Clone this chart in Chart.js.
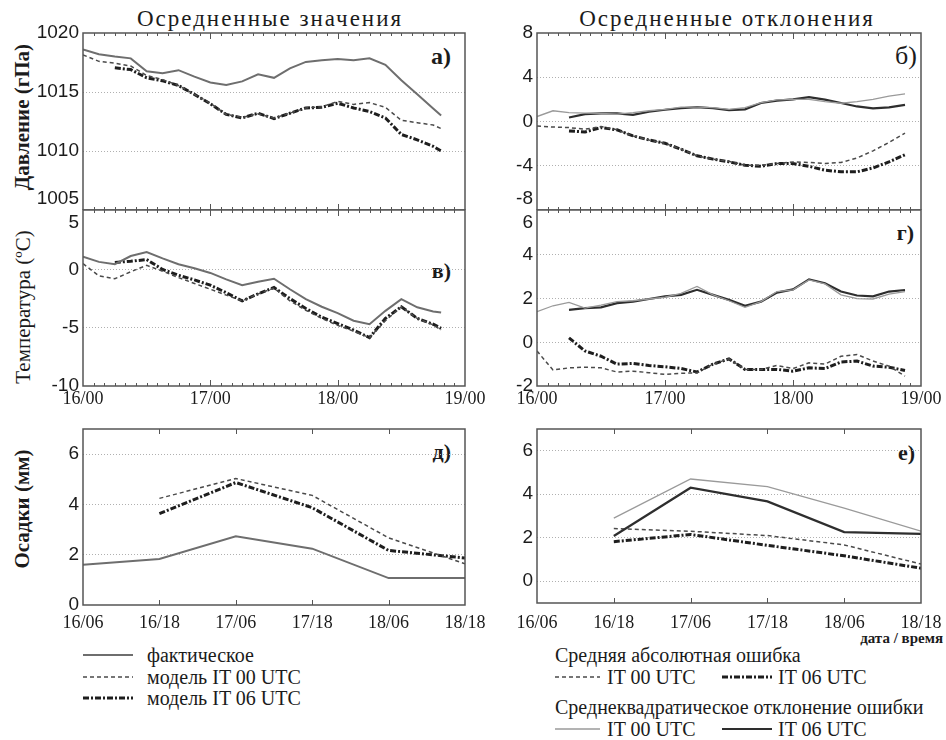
<!DOCTYPE html>
<html>
<head>
<meta charset="utf-8">
<script src="https://cdn.jsdelivr.net/npm/chart.js@4.4.1/dist/chart.umd.min.js"></script>
<style>
  body { margin: 0; width: 946px; height: 740px; background: #fff; position: relative; overflow: hidden; }
  canvas, svg { position: absolute; }
</style>
</head>
<body>
<svg width="946" height="740" style="left:0;top:0">
  <g font-family="Liberation Serif" fill="#1b1b1b" dominant-baseline="central">
    <text x="270" y="18" font-size="23" letter-spacing="2" text-anchor="middle">Осредненные значения</text>
    <text x="727" y="18" font-size="23" letter-spacing="2" text-anchor="middle">Осредненные отклонения</text>
    <text transform="translate(22,117) rotate(-90)" font-size="21" font-weight="bold" text-anchor="middle">Давление (гПа)</text>
    <text transform="translate(23,307) rotate(-90)" font-size="21" text-anchor="middle">Температура (ºC)</text>
    <text transform="translate(22,509) rotate(-90)" font-size="21" font-weight="bold" text-anchor="middle">Осадки (мм)</text>
    <text x="451" y="56" font-size="24" font-weight="bold" text-anchor="end">а)</text>
    <text x="917" y="55" font-size="26" text-anchor="end">б)</text>
    <text x="451" y="270" font-size="22" font-weight="bold" text-anchor="end">в)</text>
    <text x="914" y="232" font-size="22" font-weight="bold" text-anchor="end">г)</text>
    <text x="451" y="451" font-size="22" font-weight="bold" text-anchor="end">д)</text>
    <text x="915" y="452" font-size="22" font-weight="bold" text-anchor="end">е)</text>
    <text x="943" y="638" font-size="15" font-weight="bold" text-anchor="end">дата / время</text>

    <text x="147" y="655" font-size="20">фактическое</text>
    <text x="147" y="677" font-size="20">модель IT 00 UTC</text>
    <text x="147" y="698" font-size="20">модель IT 06 UTC</text>

    <text x="555" y="655" font-size="20">Средняя абсолютная ошибка</text>
    <text x="607" y="677" font-size="20">IT 00 UTC</text>
    <text x="778" y="677" font-size="20">IT 06 UTC</text>
    <text x="555" y="707" font-size="20">Среднеквадратическое отклонение ошибки</text>
    <text x="607" y="729" font-size="20">IT 00 UTC</text>
    <text x="778" y="729" font-size="20">IT 06 UTC</text>
  </g>
  <g fill="none">
    <line x1="83" y1="655" x2="133" y2="655" stroke="#6e6e6e" stroke-width="2"/>
    <line x1="83" y1="677" x2="133" y2="677" stroke="#4a4a4a" stroke-width="1.5" stroke-dasharray="4 3"/>
    <line x1="83" y1="698" x2="133" y2="698" stroke="#1e1e1e" stroke-width="3" stroke-dasharray="6 2 2 2"/>
    <line x1="555" y1="677" x2="600" y2="677" stroke="#4a4a4a" stroke-width="1.5" stroke-dasharray="4 3"/>
    <line x1="722" y1="677" x2="772" y2="677" stroke="#1e1e1e" stroke-width="3" stroke-dasharray="6 2 2 2"/>
    <line x1="555" y1="729" x2="600" y2="729" stroke="#9a9a9a" stroke-width="1.3"/>
    <line x1="722" y1="729" x2="772" y2="729" stroke="#2e2e2e" stroke-width="2.2"/>
  </g>
</svg>

<canvas id="pA" width="490" height="190" style="left:0;top:20px"></canvas>
<canvas id="pB" width="466" height="190" style="left:480px;top:20px"></canvas>
<canvas id="pV" width="490" height="217" style="left:0;top:195px"></canvas>
<canvas id="pG" width="466" height="217" style="left:480px;top:195px"></canvas>
<canvas id="pD" width="490" height="218" style="left:0;top:415px"></canvas>
<canvas id="pE" width="466" height="216" style="left:480px;top:415px"></canvas>

<script>
// time axes, hours from 16/00
const leftHours = [0, 3, 6, 9, 12, 15, 18, 21, 24, 27, 30, 33, 36, 39, 42, 45, 48, 51, 54, 57, 60, 63, 66, 67.5];
const rightHours = [0, 3, 6, 9, 12, 15, 18, 21, 24, 27, 30, 33, 36, 39, 42, 45, 48, 51, 54, 57, 60, 63, 66, 69];
const dayTicks = [0, 24, 48, 72];
const dayLabels = ['16/00', '17/00', '18/00', '19/00'];
const termPos = [0, 1, 2, 3, 4, 5];
const termLabels = ['16/06', '16/18', '17/06', '17/18', '18/06', '18/18'];

// а) давление
const pressFact = [1018.6, 1018.2, 1018.0, 1017.85, 1016.75, 1016.6, 1016.85, 1016.3, 1015.8, 1015.6, 1015.9, 1016.5,
  1016.2, 1017.0, 1017.55, 1017.7, 1017.8, 1017.7, 1017.85, 1017.3, 1016.0, 1014.8, 1013.6, 1013.0];
const pressIT00 = [1018.15, 1017.6, 1017.45, 1017.2, 1016.4, 1016.05, 1015.55, 1014.8, 1014.05, 1013.1, 1012.85, 1013.15,
  1012.8, 1013.2, 1013.65, 1013.75, 1014.2, 1013.95, 1014.1, 1013.7, 1012.6, 1012.4, 1012.2, 1011.9];
const pressIT06 = [null, null, 1017.05, 1016.9, 1016.2, 1015.95, 1015.55, 1014.8, 1014.0, 1013.1, 1012.8, 1013.2,
  1012.75, 1013.2, 1013.65, 1013.7, 1014.05, 1013.65, 1013.35, 1012.8, 1011.4, 1010.95, 1010.4, 1010.0];

// в) температура
const tempFact = [1.1, 0.65, 0.45, 1.15, 1.5, 0.95, 0.45, 0.1, -0.3, -0.85, -1.35, -1.05,
  -0.8, -1.7, -2.55, -3.2, -3.75, -4.4, -4.7, -3.55, -2.55, -3.25, -3.6, -3.7];
const tempIT00 = [0.5, -0.55, -0.8, -0.2, 0.35, -0.15, -0.7, -1.2, -1.7, -2.2, -2.7, -2.1,
  -1.6, -2.7, -3.5, -4.2, -4.8, -5.3, -5.85, -4.4, -3.2, -4.2, -4.75, -5.2];
const tempIT06 = [null, null, 0.6, 0.7, 0.85, 0.0, -0.5, -0.9, -1.35, -2.0, -2.7, -2.1,
  -1.55, -2.5, -3.35, -4.1, -4.65, -5.2, -5.85, -4.2, -3.2, -4.2, -4.7, -5.05];

// б) отклонения давления
const pressRmse00 = [0.45, 0.97, 0.8, 0.75, 0.73, 0.67, 0.8, 0.97, 1.1, 1.3, 1.3, 1.25,
  1.1, 1.25, 1.7, 1.95, 2.0, 2.0, 1.8, 1.65, 1.8, 2.0, 2.3, 2.5];
const pressRmse06 = [null, null, 0.36, 0.67, 0.73, 0.73, 0.6, 0.88, 1.06, 1.2, 1.3, 1.2,
  1.03, 1.1, 1.67, 1.88, 2.0, 2.2, 1.97, 1.67, 1.36, 1.18, 1.27, 1.5];
const pressMae00 = [-0.4, -0.5, -0.55, -0.7, -0.45, -0.75, -1.3, -1.67, -1.97, -2.5, -3.1, -3.4,
  -3.6, -3.95, -3.95, -3.8, -3.65, -3.7, -3.8, -3.7, -3.3, -2.65, -1.9, -1.05];
const pressMae06 = [null, null, -0.85, -0.95, -0.55, -0.75, -1.3, -1.67, -1.97, -2.5, -3.1, -3.4,
  -3.65, -3.95, -4.05, -3.8, -3.8, -4.05, -4.4, -4.55, -4.55, -4.2, -3.65, -3.0];

// г) отклонения температуры
const tempRmse00 = [1.4, 1.67, 1.82, 1.56, 1.7, 1.86, 1.9, 1.98, 2.06, 2.24, 2.55, 2.17,
  1.9, 1.6, 1.86, 2.32, 2.4, 2.85, 2.67, 2.17, 2.0, 1.98, 2.2, 2.32];
const tempRmse06 = [null, null, 1.48, 1.56, 1.6, 1.79, 1.86, 1.98, 2.1, 2.17, 2.4, 2.17,
  1.94, 1.67, 1.86, 2.27, 2.42, 2.88, 2.7, 2.32, 2.14, 2.1, 2.32, 2.39];
const tempMae00 = [-0.4, -1.27, -1.17, -1.14, -1.17, -1.36, -1.32, -1.39, -1.47, -1.42, -1.4, -1.0,
  -0.76, -1.24, -1.24, -1.06, -1.2, -0.94, -1.0, -0.64, -0.56, -0.86, -1.09, -1.55];
const tempMae06 = [null, null, 0.2, -0.4, -0.64, -1.0, -0.97, -1.06, -1.12, -1.2, -1.36, -1.0,
  -0.76, -1.24, -1.24, -1.24, -1.32, -1.17, -1.2, -0.9, -0.86, -1.09, -1.14, -1.29];

// д) е) осадки
const precipFact = [1.6, 1.83, 2.73, 2.24, 1.07, 1.07];
const precipIT00 = [null, 4.24, 5.03, 4.36, 2.67, 1.64];
const precipIT06 = [null, 3.63, 4.87, 3.87, 2.17, 1.87];
const precipRmse00 = [null, 2.9, 4.7, 4.35, 3.36, 2.3];
const precipRmse06 = [null, 2.08, 4.3, 3.67, 2.26, 2.18];
const precipMae00 = [null, 2.42, 2.3, 2.1, 1.67, 0.79];
const precipMae06 = [null, 1.82, 2.15, 1.65, 1.17, 0.6];

// y ticks
const pressTicks = [1005, 1010, 1015, 1020];
const devPressTicks = [-8, -4, 0, 4, 8];
const tempTicks = [-10, -5, 0, 5];
const devTempTicks = [-2, 0, 2, 4, 6];
const precipTicks = [0, 2, 4, 6];
const devPrecipTicks = [0, 2, 4, 6];

const sFact = { borderColor: '#6e6e6e', borderWidth: 2 };
const s00 = { borderColor: '#4a4a4a', borderWidth: 1.5, borderDash: [4, 3] };
const s06 = { borderColor: '#1e1e1e', borderWidth: 3, borderDash: [6, 2, 2, 2] };
const sRmse00 = { borderColor: '#9a9a9a', borderWidth: 1.3 };
const sRmse06 = { borderColor: '#2e2e2e', borderWidth: 2.2 };

function line(label, xs, ys, style) {
  return Object.assign({
    label,
    data: xs.map((x, i) => ({ x, y: ys[i] })),
    pointRadius: 0, tension: 0, fill: false
  }, style);
}

// frame round the plot plus small inward ticks on top and bottom edges
const frameTicks = {
  id: 'frameTicks',
  afterDatasetsDraw(chart, args, opts) {
    const { ctx, chartArea: a, scales: { x } } = chart;
    ctx.save();
    ctx.strokeStyle = '#555';
    ctx.lineWidth = 1;
    ctx.beginPath();
    const tick = (v, len) => {
      const px = Math.round(x.getPixelForValue(v)) + 0.5;
      ctx.moveTo(px, a.top); ctx.lineTo(px, a.top + len);
      ctx.moveTo(px, a.bottom); ctx.lineTo(px, a.bottom - len);
    };
    if (opts.step) {
      for (let v = x.min + opts.step; v < x.max; v += opts.step) {
        tick(v, v % 24 === 0 ? 6 : 3);
      }
    } else {
      termPos.slice(1, -1).forEach(v => tick(v, 5));
    }
    ctx.stroke();
    ctx.lineWidth = 1.5;
    ctx.strokeRect(a.left, a.top, a.width, a.height);
    ctx.restore();
  }
};

function panel(id, cfg) {
  const labelFor = v => {
    const i = cfg.xTicks.indexOf(v);
    return i >= 0 && cfg.xLabels ? cfg.xLabels[i] : '';
  };
  // edge labels are nudged inside the frame, as in the original
  const yLabel = v => {
    if (v === cfg.dropTick) return ['', String(v)];
    if (v === cfg.liftTick) return [String(v), ''];
    return String(v);
  };
  return new Chart(document.getElementById(id), {
    type: 'line',
    data: { datasets: cfg.datasets },
    plugins: [frameTicks],
    options: {
      responsive: false,
      animation: false,
      layout: { padding: { left: 0, right: 25, top: cfg.padTop, bottom: 0 } },
      plugins: {
        legend: { display: false },
        tooltip: { enabled: false },
        frameTicks: { step: cfg.step }
      },
      scales: {
        x: {
          type: 'linear',
          min: cfg.xMin, max: cfg.xMax,
          display: !!cfg.xLabels,
          grid: { display: false, drawTicks: false },
          border: { display: false },
          afterBuildTicks: s => { s.ticks = cfg.xTicks.map(v => ({ value: v })); },
          afterFit: s => { s.height = cfg.xHeight || 0; s.paddingLeft = 0; s.paddingRight = 0; },
          ticks: {
            autoSkip: false, maxRotation: 0, padding: cfg.xPad || 0,
            color: '#1b1b1b',
            font: { family: 'Liberation Serif', size: 18 },
            callback: v => labelFor(v)
          }
        },
        y: {
          min: cfg.yMin, max: cfg.yMax,
          afterBuildTicks: s => { s.ticks = cfg.yTicks.map(v => ({ value: v })); },
          afterFit: s => { s.width = cfg.yWidth; s.paddingTop = 0; s.paddingBottom = 0; },
          grid: {
            drawTicks: false, lineWidth: 1,
            color: c => (c.tick && c.tick.value > cfg.yMin + 0.01 && c.tick.value < cfg.yMax - 0.3) ? '#b0b0b0' : 'rgba(0,0,0,0)'
          },
          border: { display: false, dash: [1, 2] },
          ticks: {
            autoSkip: false, padding: 4, color: '#1b1b1b',
            font: { family: 'Liberation Sans', size: 19 },
            callback: yLabel
          }
        }
      }
    }
  });
}

panel('pA', {
  padTop: 13, yWidth: 83, yMin: 1005, yMax: 1020, yTicks: pressTicks, liftTick: 1005,
  xMin: 0, xMax: 72, xTicks: dayTicks, step: 2,
  datasets: [
    line('фактическое', leftHours, pressFact, sFact),
    line('модель IT 00 UTC', leftHours, pressIT00, s00),
    line('модель IT 06 UTC', leftHours, pressIT06, s06)
  ]
});

panel('pB', {
  padTop: 13, yWidth: 57, yMin: -8, yMax: 8, yTicks: devPressTicks, liftTick: -8,
  xMin: 0, xMax: 72, xTicks: dayTicks, step: 2,
  datasets: [
    line('СКО IT 00 UTC', rightHours, pressRmse00, sRmse00),
    line('СКО IT 06 UTC', rightHours, pressRmse06, sRmse06),
    line('САО IT 00 UTC', rightHours, pressMae00, s00),
    line('САО IT 06 UTC', rightHours, pressMae06, s06)
  ]
});

panel('pV', {
  padTop: 15, yWidth: 83, yMin: -10, yMax: 5.1, yTicks: tempTicks, dropTick: 5,
  xMin: 0, xMax: 72, xTicks: dayTicks, xLabels: dayLabels, xHeight: 26, xPad: 2, step: 2,
  datasets: [
    line('фактическое', leftHours, tempFact, sFact),
    line('модель IT 00 UTC', leftHours, tempIT00, s00),
    line('модель IT 06 UTC', leftHours, tempIT06, s06)
  ]
});

panel('pG', {
  padTop: 15, yWidth: 57, yMin: -2, yMax: 6.05, yTicks: devTempTicks, dropTick: 6,
  xMin: 0, xMax: 72, xTicks: dayTicks, xLabels: dayLabels, xHeight: 26, xPad: 2, step: 2,
  datasets: [
    line('СКО IT 00 UTC', rightHours, tempRmse00, sRmse00),
    line('СКО IT 06 UTC', rightHours, tempRmse06, sRmse06),
    line('САО IT 00 UTC', rightHours, tempMae00, s00),
    line('САО IT 06 UTC', rightHours, tempMae06, s06)
  ]
});

panel('pD', {
  padTop: 14, yWidth: 83, yMin: 0, yMax: 7, yTicks: precipTicks,
  xMin: 0, xMax: 5, xTicks: termPos, xLabels: termLabels, xHeight: 28, xPad: 7,
  datasets: [
    line('фактическое', termPos, precipFact, sFact),
    line('модель IT 00 UTC', termPos, precipIT00, s00),
    line('модель IT 06 UTC', termPos, precipIT06, s06)
  ]
});

panel('pE', {
  padTop: 14, yWidth: 57, yMin: -1, yMax: 7, yTicks: devPrecipTicks,
  xMin: 0, xMax: 5, xTicks: termPos, xLabels: termLabels, xHeight: 28, xPad: 9,
  datasets: [
    line('СКО IT 00 UTC', termPos, precipRmse00, sRmse00),
    line('СКО IT 06 UTC', termPos, precipRmse06, sRmse06),
    line('САО IT 00 UTC', termPos, precipMae00, s00),
    line('САО IT 06 UTC', termPos, precipMae06, s06)
  ]
});
</script>
</body>
</html>
